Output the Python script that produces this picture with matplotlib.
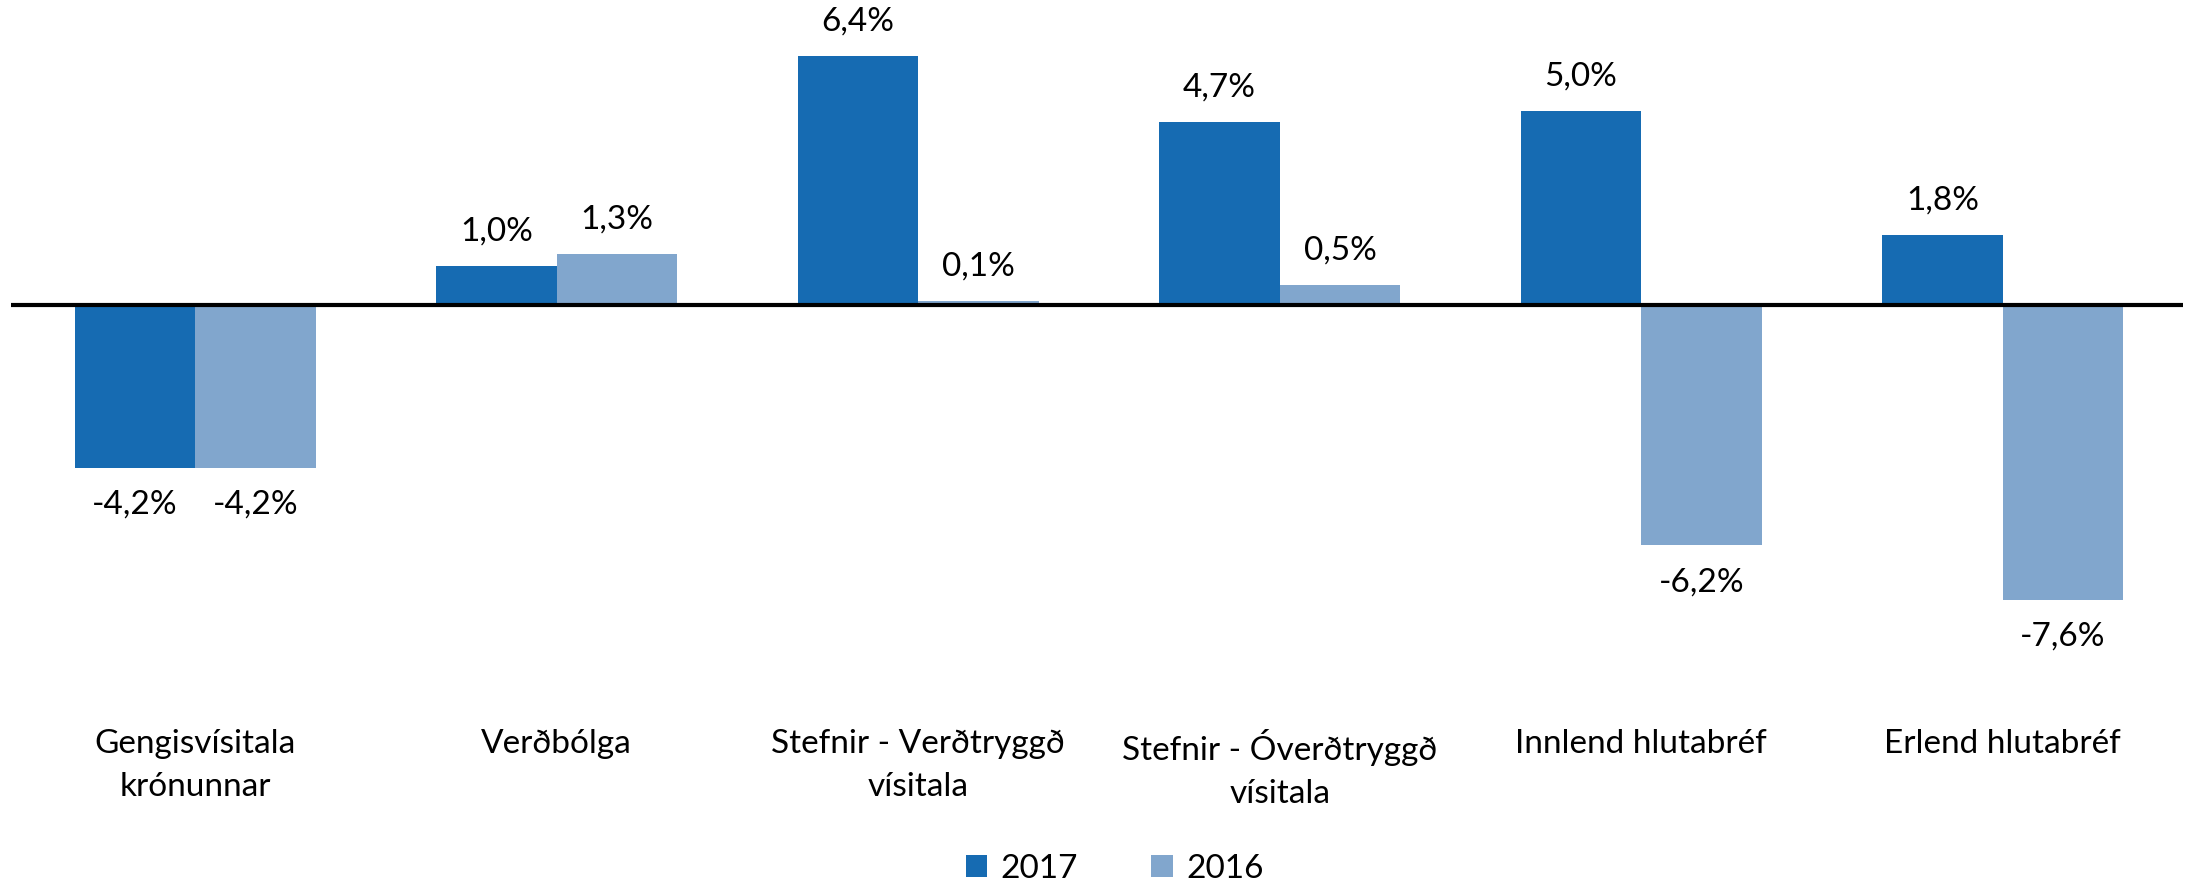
import matplotlib.pyplot as plt
import numpy as np

categories = ["Gengisvísitala\nkrónunnar", "Verðbólga", "Stefnir - Verðtryggð\nvísitala",
              "Stefnir - Óverðtryggð\nvísitala", "Innlend hlutabréf", "Erlend hlutabréf"]
vals_2017 = [-4.2, 1.0, 6.4, 4.7, 5.0, 1.8]
vals_2016 = [-4.2, 1.3, 0.1, 0.5, -6.2, -7.6]
series_names = ["2017", "2016"]
colors = ["#166BB2", "#81A6CD"]

plt.rcParams['font.family'] = ['Lato', 'DejaVu Sans']

fig = plt.figure(figsize=(21.9, 8.84), dpi=100)
ax = fig.add_axes([0.005, 1 - 700 / 884, 0.992, 700 / 884])

x = np.arange(len(categories))
w = 1 / 3
bars = []
for i, (vals, name) in enumerate(zip([vals_2017, vals_2016], series_names)):
    b = ax.bar(x + (i - 0.5) * w, vals, width=w, color=colors[i], label=name)
    bars.append(b)
    for xi, v in zip(x + (i - 0.5) * w, vals):
        txt = f"{v:.1f}%".replace(".", ",")
        if v >= 0:
            ax.annotate(txt, (xi, v), xytext=(0, 14), textcoords="offset points",
                        ha="center", va="bottom", fontsize=24)
        else:
            ax.annotate(txt, (xi, v), xytext=(0, -16), textcoords="offset points",
                        ha="center", va="top", fontsize=24)

ax.axhline(0, color="black", linewidth=3)
ax.set_xlim(-0.51, 5.5)
ax.set_ylim(-10.19, 7.85)
ax.set_xticks(x)
ax.set_xticklabels(categories, fontsize=24, linespacing=1.55)
ax.tick_params(axis="x", length=0, pad=21)
ax.set_yticks([])
for s in ax.spines.values():
    s.set_visible(False)

fig.legend(handles=bars, labels=series_names, loc="lower center", bbox_to_anchor=(0.509, -0.034),
           ncol=2, frameon=False, fontsize=24, handlelength=0.65, handleheight=0.65,
           columnspacing=2.2, handletextpad=0.4)

fig.savefig("out.png", dpi=100)
